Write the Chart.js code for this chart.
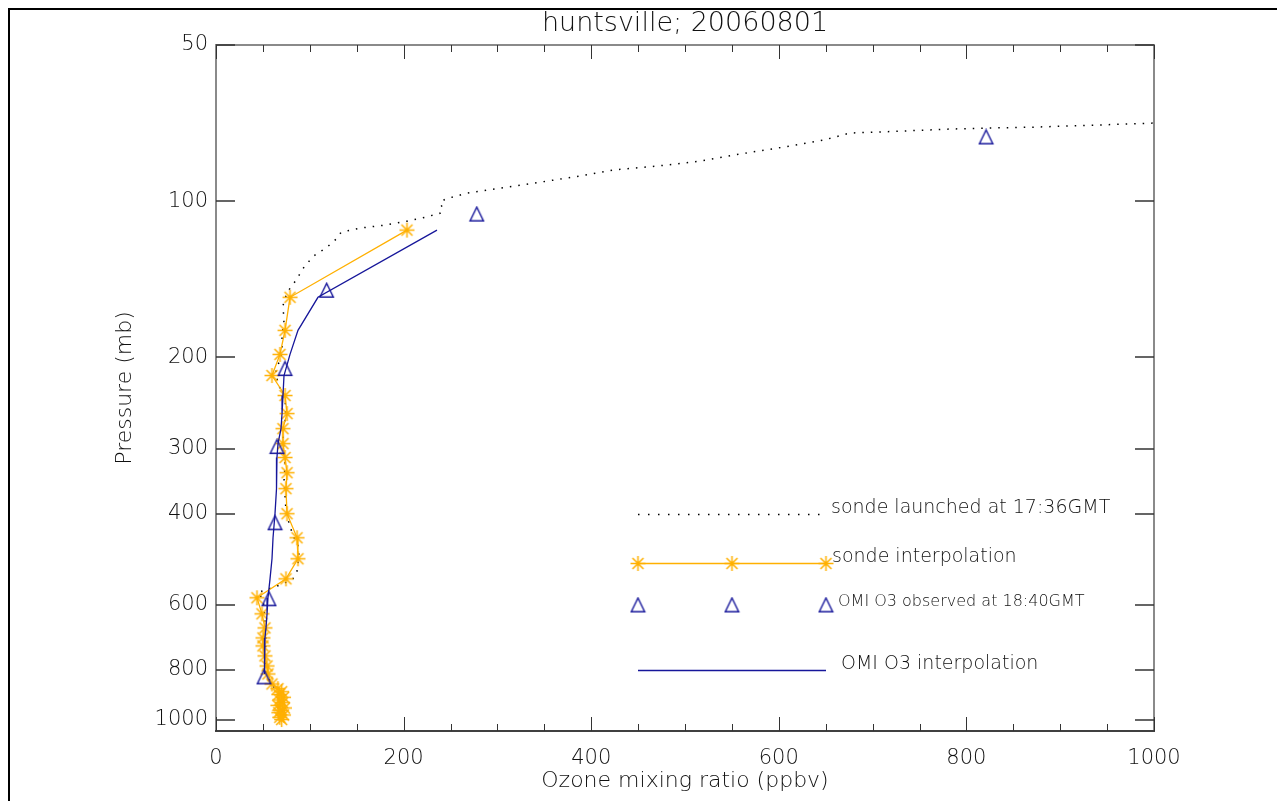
<!DOCTYPE html>
<html>
<head>
<meta charset="utf-8">
<title>huntsville; 20060801</title>
<script src="https://cdn.jsdelivr.net/npm/chart.js@4.4.1/dist/chart.umd.min.js"></script>
<style>
  html, body { margin: 0; padding: 0; background: #fff; }
</style>
</head>
<body>
<canvas id="ozone" width="1277" height="801"></canvas>
<script>
// ozonesonde profile, surface upward: pressure (mb) / ozone (ppbv)
const sondeP = [1000, 950, 919, 871, 841, 812, 769, 704, 644, 603, 581, 569, 561, 554, 544, 534,
  516, 482, 461, 441, 417, 395, 369, 346, 323, 302, 283, 265, 248, 237, 227, 217, 210, 203, 194,
  181, 170, 159, 150, 142, 133, 127, 122.7, 117.9, 114.8, 112.7, 111.2, 109.3, 107.4, 105.5, 103.2,
  100.9, 99.1, 96.5, 94.4, 91.9, 89.9, 87.1, 85.2, 83.7, 81.1, 78.7, 76.3, 73.9, 73.3, 72.6, 72.3,
  72.0, 71.3, 70.7, 70.4];
const sondeO3 = [72, 70, 68.2, 62.9, 57.6, 53.3, 52.2, 53.3, 52.2, 51.2, 49.0, 44.8, 52.2, 62.9, 73.6, 82.1,
  86.4, 88.5, 87.4, 82.1, 77.8, 74.6, 73.6, 72.5, 73.6, 72.5, 71.4, 73.6, 74.6, 71.4, 67.2, 64.0, 64.0, 68.2, 70.4,
  70.4, 72.5, 71.4, 75.7, 85.3, 94.9, 105.5, 118.3, 129.0, 133.3, 153.5, 180.2, 203.6, 222.8, 238.8, 242.0,
  238.8, 244.1, 267.6, 302.8, 345.4, 380.6, 423.2, 480.8, 516.0, 558.6, 604.5, 647.1, 675.9, 729.2, 782.5, 822.0,
  871.0, 942.4, 1000, 1030];

// sonde interpolated onto the retrieval levels
const interpP = [113.7, 153.2, 177.4, 197.4, 216.8, 236.9, 256.7, 274.4, 293.3, 312.0, 333.7, 358.2,
  400.3, 445.4, 489.0, 534.4, 581.3, 624.3, 664.4, 694.6, 719.7, 752.4, 786.7, 815.2, 852.2,
  870, 882, 893, 904, 915, 926, 937, 948, 958, 968, 978, 988, 998];
const interpO3 = [203.6, 78.9, 73.6, 68.2, 59.7, 73.6, 75.7, 71.4, 71.4, 73.6, 75.7, 74.6,
  75.7, 86.4, 87.4, 74.6, 43.7, 49.0, 52.2, 50.1, 50.1, 52.2, 54.4, 55.4, 59.7,
  66, 70, 67, 72, 68, 71, 66, 73, 69, 67, 72, 68, 70];

// OMI retrieval levels
const omiP = [75.2, 105.9, 148.5, 210.2, 297.2, 416.7, 583.9, 826];
const omiO3 = [821, 278, 118, 73.6, 65.0, 62.9, 56.5, 51.2];

// OMI interpolated onto the same levels as the sonde
const omiInterpP = [113.7, 153.2, 177.4, 197.4, 216.8, 236.9, 256.7, 274.4, 293.3, 312.0, 333.7, 358.2,
  400.3, 445.4, 489.0, 534.4, 581.3, 624.3, 664.4, 694.6, 719.7, 752.4, 786.7, 815.2];
const omiInterpO3 = [235.6, 108.7, 87.4, 78.9, 72.5, 71.4, 70.4, 69.3, 66.1, 65.0, 65.0, 64.0,
  62.9, 60.8, 59.7, 57.6, 55.4, 54.4, 53.3, 52.2, 52.2, 52.2, 51.2, 51.2];

const pTicks = [50, 100, 200, 300, 400, 600, 800, 1000];
const o3Ticks = [0, 200, 400, 600, 800, 1000];
const o3MinorStep = 50;

const ORANGE = "#ffb000";
const NAVY = "#16169a";
const INK = "#111";
const FONT = "'DejaVu Sans', sans-serif";

const pairs = (xs, ps) => xs.map((v, i) => ({ x: v, y: ps[i] }));

/* IDL-style plot symbols */
function asterisk() {
  const c = document.createElement("canvas"); c.width = 19; c.height = 19;
  const g = c.getContext("2d");
  g.strokeStyle = ORANGE; g.lineWidth = 1.5;
  g.beginPath();
  g.moveTo(9.5, 2); g.lineTo(9.5, 17);
  g.moveTo(2, 9.5); g.lineTo(17, 9.5);
  g.moveTo(4, 4); g.lineTo(15, 15);
  g.moveTo(15, 4); g.lineTo(4, 15);
  g.stroke();
  return c;
}
function triangle() {
  const c = document.createElement("canvas"); c.width = 17; c.height = 17;
  const g = c.getContext("2d");
  g.strokeStyle = NAVY; g.lineWidth = 1.4;
  g.beginPath();
  g.moveTo(8.5, 1.5); g.lineTo(15.2, 15.2); g.lineTo(1.8, 15.2); g.closePath();
  g.stroke();
  return c;
}
const starImg = asterisk();
const triImg = triangle();

/* frame, inward ticks, title and legend */
const idlFrame = {
  id: "idlFrame",
  afterDraw(chart) {
    const { ctx, chartArea: a, scales: { x, y } } = chart;
    ctx.save();
    ctx.strokeStyle = "#000"; ctx.lineWidth = 2;
    ctx.beginPath(); ctx.moveTo(9, 801); ctx.lineTo(9, 9); ctx.lineTo(1277, 9); ctx.stroke();

    ctx.strokeStyle = "#8a8a8a";
    ctx.beginPath();
    ctx.moveTo(a.left, a.bottom); ctx.lineTo(a.left, a.top); ctx.lineTo(a.right, a.top); ctx.lineTo(a.right, a.bottom);
    ctx.stroke();
    ctx.strokeStyle = "#404040";
    ctx.beginPath(); ctx.moveTo(a.left - 1, a.bottom); ctx.lineTo(a.right + 1, a.bottom); ctx.stroke();

    ctx.strokeStyle = "#333"; ctx.lineWidth = 1;
    ctx.beginPath();
    for (let v = 0; v <= 1000; v += o3MinorStep) {
      const px = Math.round(x.getPixelForValue(v)) + 0.5;
      const len = o3Ticks.includes(v) ? 14 : 7;
      ctx.moveTo(px, a.bottom); ctx.lineTo(px, a.bottom - len);
      ctx.moveTo(px, a.top); ctx.lineTo(px, a.top + len);
    }
    ctx.stroke();
    ctx.lineWidth = 1.5;
    ctx.beginPath();
    pTicks.forEach((p) => {
      const py = Math.round(y.getPixelForValue(p));
      ctx.moveTo(a.left, py); ctx.lineTo(a.left + 19, py);
      ctx.moveTo(a.right, py); ctx.lineTo(a.right - 19, py);
    });
    ctx.stroke();

    ctx.fillStyle = INK;
    ctx.textBaseline = "middle";
    ctx.textAlign = "center";
    ctx.font = "200 27px " + FONT;
    ctx.fillText("huntsville; 20060801", (a.left + a.right) / 2, 24);

    // legend
    ctx.textAlign = "left";
    ctx.strokeStyle = "#000"; ctx.lineWidth = 1.5;
    ctx.setLineDash([1.5, 8.5]);
    ctx.beginPath(); ctx.moveTo(638, 514.5); ctx.lineTo(826, 514.5); ctx.stroke();
    ctx.setLineDash([]);
    ctx.font = "200 19px " + FONT;
    ctx.fillText("sonde launched at 17:36GMT", 831, 508);

    ctx.strokeStyle = ORANGE; ctx.lineWidth = 1.5;
    ctx.beginPath(); ctx.moveTo(638, 563.5); ctx.lineTo(826, 563.5); ctx.stroke();
    [638, 732, 826].forEach((lx) => ctx.drawImage(starImg, lx - 9.5, 563.5 - 9.5));
    ctx.fillText("sonde interpolation", 832, 557);

    [638, 732, 826].forEach((lx) => ctx.drawImage(triImg, lx - 8.5, 605 - 8.5));
    ctx.font = "200 16px " + FONT;
    ctx.fillText("OMI O3 observed at 18:40GMT", 838, 602);

    ctx.strokeStyle = NAVY; ctx.lineWidth = 1.3;
    ctx.beginPath(); ctx.moveTo(638, 670.5); ctx.lineTo(826, 670.5); ctx.stroke();
    ctx.font = "200 19px " + FONT;
    ctx.fillText("OMI O3 interpolation", 841, 664);
    ctx.restore();
  }
};

new Chart(document.getElementById("ozone"), {
  type: "line",
  data: {
    datasets: [
      { label: "OMI O3 observed at 18:40GMT", data: pairs(omiO3, omiP), showLine: false,
        pointStyle: triImg, pointRadius: 7, borderColor: NAVY },
      { label: "OMI O3 interpolation", data: pairs(omiInterpO3, omiInterpP), borderColor: NAVY,
        borderWidth: 1.3, pointRadius: 0 },
      { label: "sonde interpolation", data: pairs(interpO3, interpP), borderColor: ORANGE,
        borderWidth: 1.3, pointStyle: starImg, pointRadius: 7 },
      { label: "sonde launched at 17:36GMT", data: pairs(sondeO3, sondeP), borderColor: "#000",
        borderWidth: 1.5, borderDash: [1.5, 7], pointRadius: 0 },
    ],
  },
  options: {
    responsive: false,
    animation: false,
    events: [],
    layout: { padding: { top: 45, right: 123, left: 0, bottom: 0 } },
    plugins: { legend: { display: false }, tooltip: { enabled: false } },
    elements: { line: { tension: 0, fill: false } },
    scales: {
      x: {
        type: "linear", min: 0, max: 1000,
        afterBuildTicks: (s) => { s.ticks = o3Ticks.map((v) => ({ value: v })); },
        afterFit: (s) => { s.height = 70; },
        grid: { display: false, drawTicks: false },
        border: { display: false },
        ticks: { padding: 15, color: INK, font: { family: FONT, size: 21, weight: "200" },
          callback: (v) => String(v) },
        title: { display: true, text: "Ozone mixing ratio (ppbv)", color: INK,
          font: { family: FONT, size: 22, weight: "200" }, padding: { top: 0, bottom: 7 } },
      },
      y: {
        type: "logarithmic", min: 50, max: 1050, reverse: true,
        afterBuildTicks: (s) => { s.ticks = pTicks.map((v) => ({ value: v })); },
        afterFit: (s) => { s.width = 216; },
        grid: { display: false, drawTicks: false },
        border: { display: false },
        ticks: { padding: 8, color: INK, font: { family: FONT, size: 21, weight: "200" },
          callback: (v) => String(v) },
        title: { display: true, text: "Pressure (mb)", color: INK,
          font: { family: FONT, size: 22, weight: "200" }, padding: { top: 112, bottom: 0 } },
      },
    },
  },
  plugins: [idlFrame],
});
</script>
</body>
</html>
